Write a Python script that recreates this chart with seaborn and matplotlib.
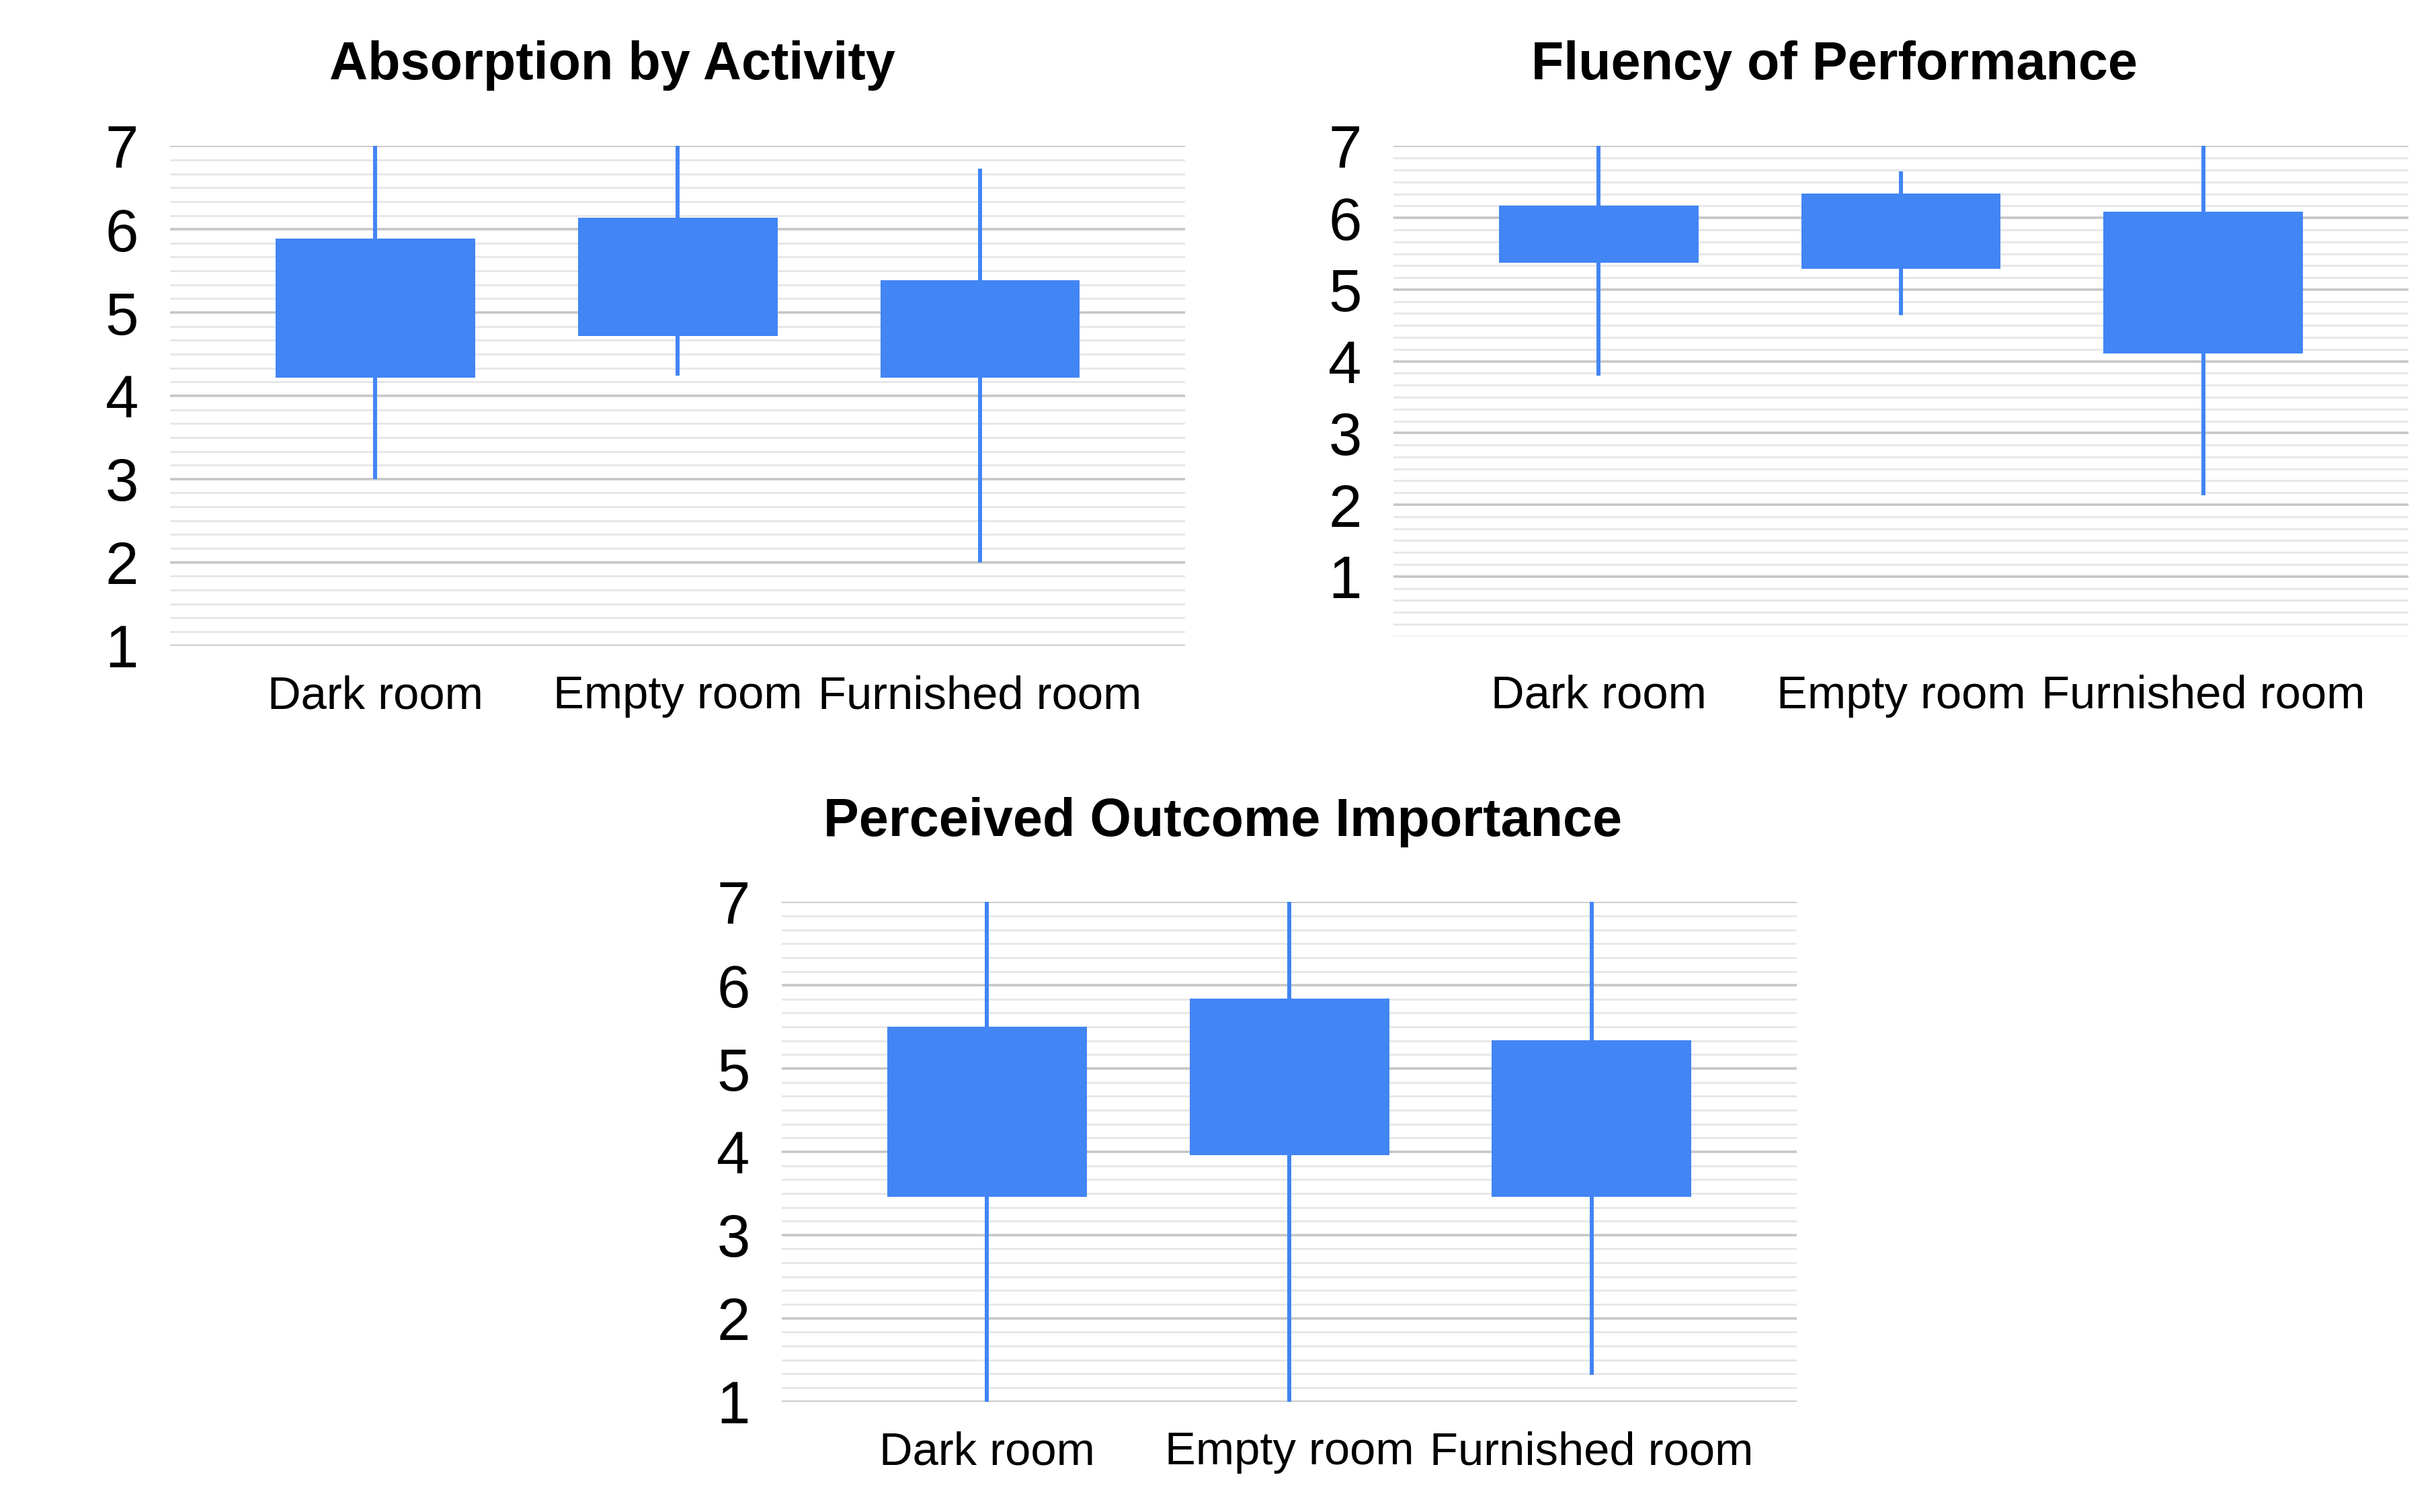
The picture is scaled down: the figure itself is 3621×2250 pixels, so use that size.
import numpy as np
import pandas as pd
import matplotlib
matplotlib.use("Agg")
import matplotlib.pyplot as plt
from matplotlib.ticker import MultipleLocator
import seaborn as sns

# Candlestick-style summary per room (low, box bottom, box top, high)
categories = ["Dark room", "Empty room", "Furnished room"]

absorption_low = [3.0, 4.24, 2.0]
absorption_q1 = [4.22, 4.72, 4.22]
absorption_q3 = [5.89, 6.14, 5.39]
absorption_high = [7.0, 7.0, 6.73]

fluency_low = [3.8, 4.64, 2.13]
fluency_q1 = [5.37, 5.29, 4.11]
fluency_q3 = [6.17, 6.34, 6.09]
fluency_high = [7.0, 6.65, 7.0]

importance_low = [1.0, 1.0, 1.32]
importance_q1 = [3.46, 3.96, 3.46]
importance_q3 = [5.5, 5.84, 5.34]
importance_high = [7.0, 7.0, 7.0]

titles = ["Absorption by Activity", "Fluency of Performance", "Perceived Outcome Importance"]

sns.set_theme(style="white")
plt.rcParams["font.family"] = ["Liberation Sans", "DejaVu Sans"]

BLUE = "#4285F4"

fig = plt.figure(figsize=(36.21, 22.5), dpi=100)

panels = [
    # axes rect, ylim bottom, x label pad, title x, title y (baseline)
    ([0.0699, 0.5729, 0.4170, 0.3307], 1.0, 31, 0.2515, 0.9477),
    ([0.5725, 0.5791, 0.4170, 0.3244], 1 / 6, 41, 0.7536, 0.9477),
    ([0.3212, 0.0729, 0.4170, 0.3307], 1.0, 31, 0.5025, 0.4471),
]
series = [
    (absorption_low, absorption_q1, absorption_q3, absorption_high),
    (fluency_low, fluency_q1, fluency_q3, fluency_high),
    (importance_low, importance_q1, importance_q3, importance_high),
]

for (rect, ymin, xpad, tx, ty), (low, q1, q3, high), title in zip(panels, series, titles):
    ax = fig.add_axes(rect)
    df = pd.DataFrame({
        "room": categories,
        "low": low, "q1": q1, "q3": q3, "high": high,
    })
    df["span"] = df["high"] - df["low"]
    df["box"] = df["q3"] - df["q1"]

    # whiskers as thin bars, boxes as wide bars
    sns.barplot(data=df, x="room", y="span", bottom=df["low"].values, width=0.012,
                color=BLUE, saturation=1, errorbar=None, linewidth=0, ax=ax)
    sns.barplot(data=df, x="room", y="box", bottom=df["q1"].values, width=0.66,
                color=BLUE, saturation=1, errorbar=None, linewidth=0, ax=ax)

    ax.set_xlim(-0.678, 2.678)
    ax.set_ylim(ymin - 0.003, 7.003)
    ax.set_yticks(range(1, 8))
    ax.yaxis.set_minor_locator(MultipleLocator(1 / 6))
    ax.grid(which="major", axis="y", color="#c6c6c6", linewidth=2.6)
    ax.grid(which="minor", axis="y", color="#e6e6e6", linewidth=2.0)
    ax.grid(which="both", axis="x", visible=False)
    ax.set_axisbelow(True)
    ax.tick_params(axis="y", which="both", length=0, labelsize=64, pad=34, labelcolor="black")
    ax.tick_params(axis="x", which="both", length=0, labelsize=49.5, pad=xpad, labelcolor="black")
    ax.set_xlabel("")
    ax.set_ylabel("")
    for s in ax.spines.values():
        s.set_visible(False)

    fig.text(tx, ty, title, ha="center", va="baseline", fontsize=57, fontweight="bold", color="black")

fig.savefig("out.png", dpi=100, facecolor="white")
